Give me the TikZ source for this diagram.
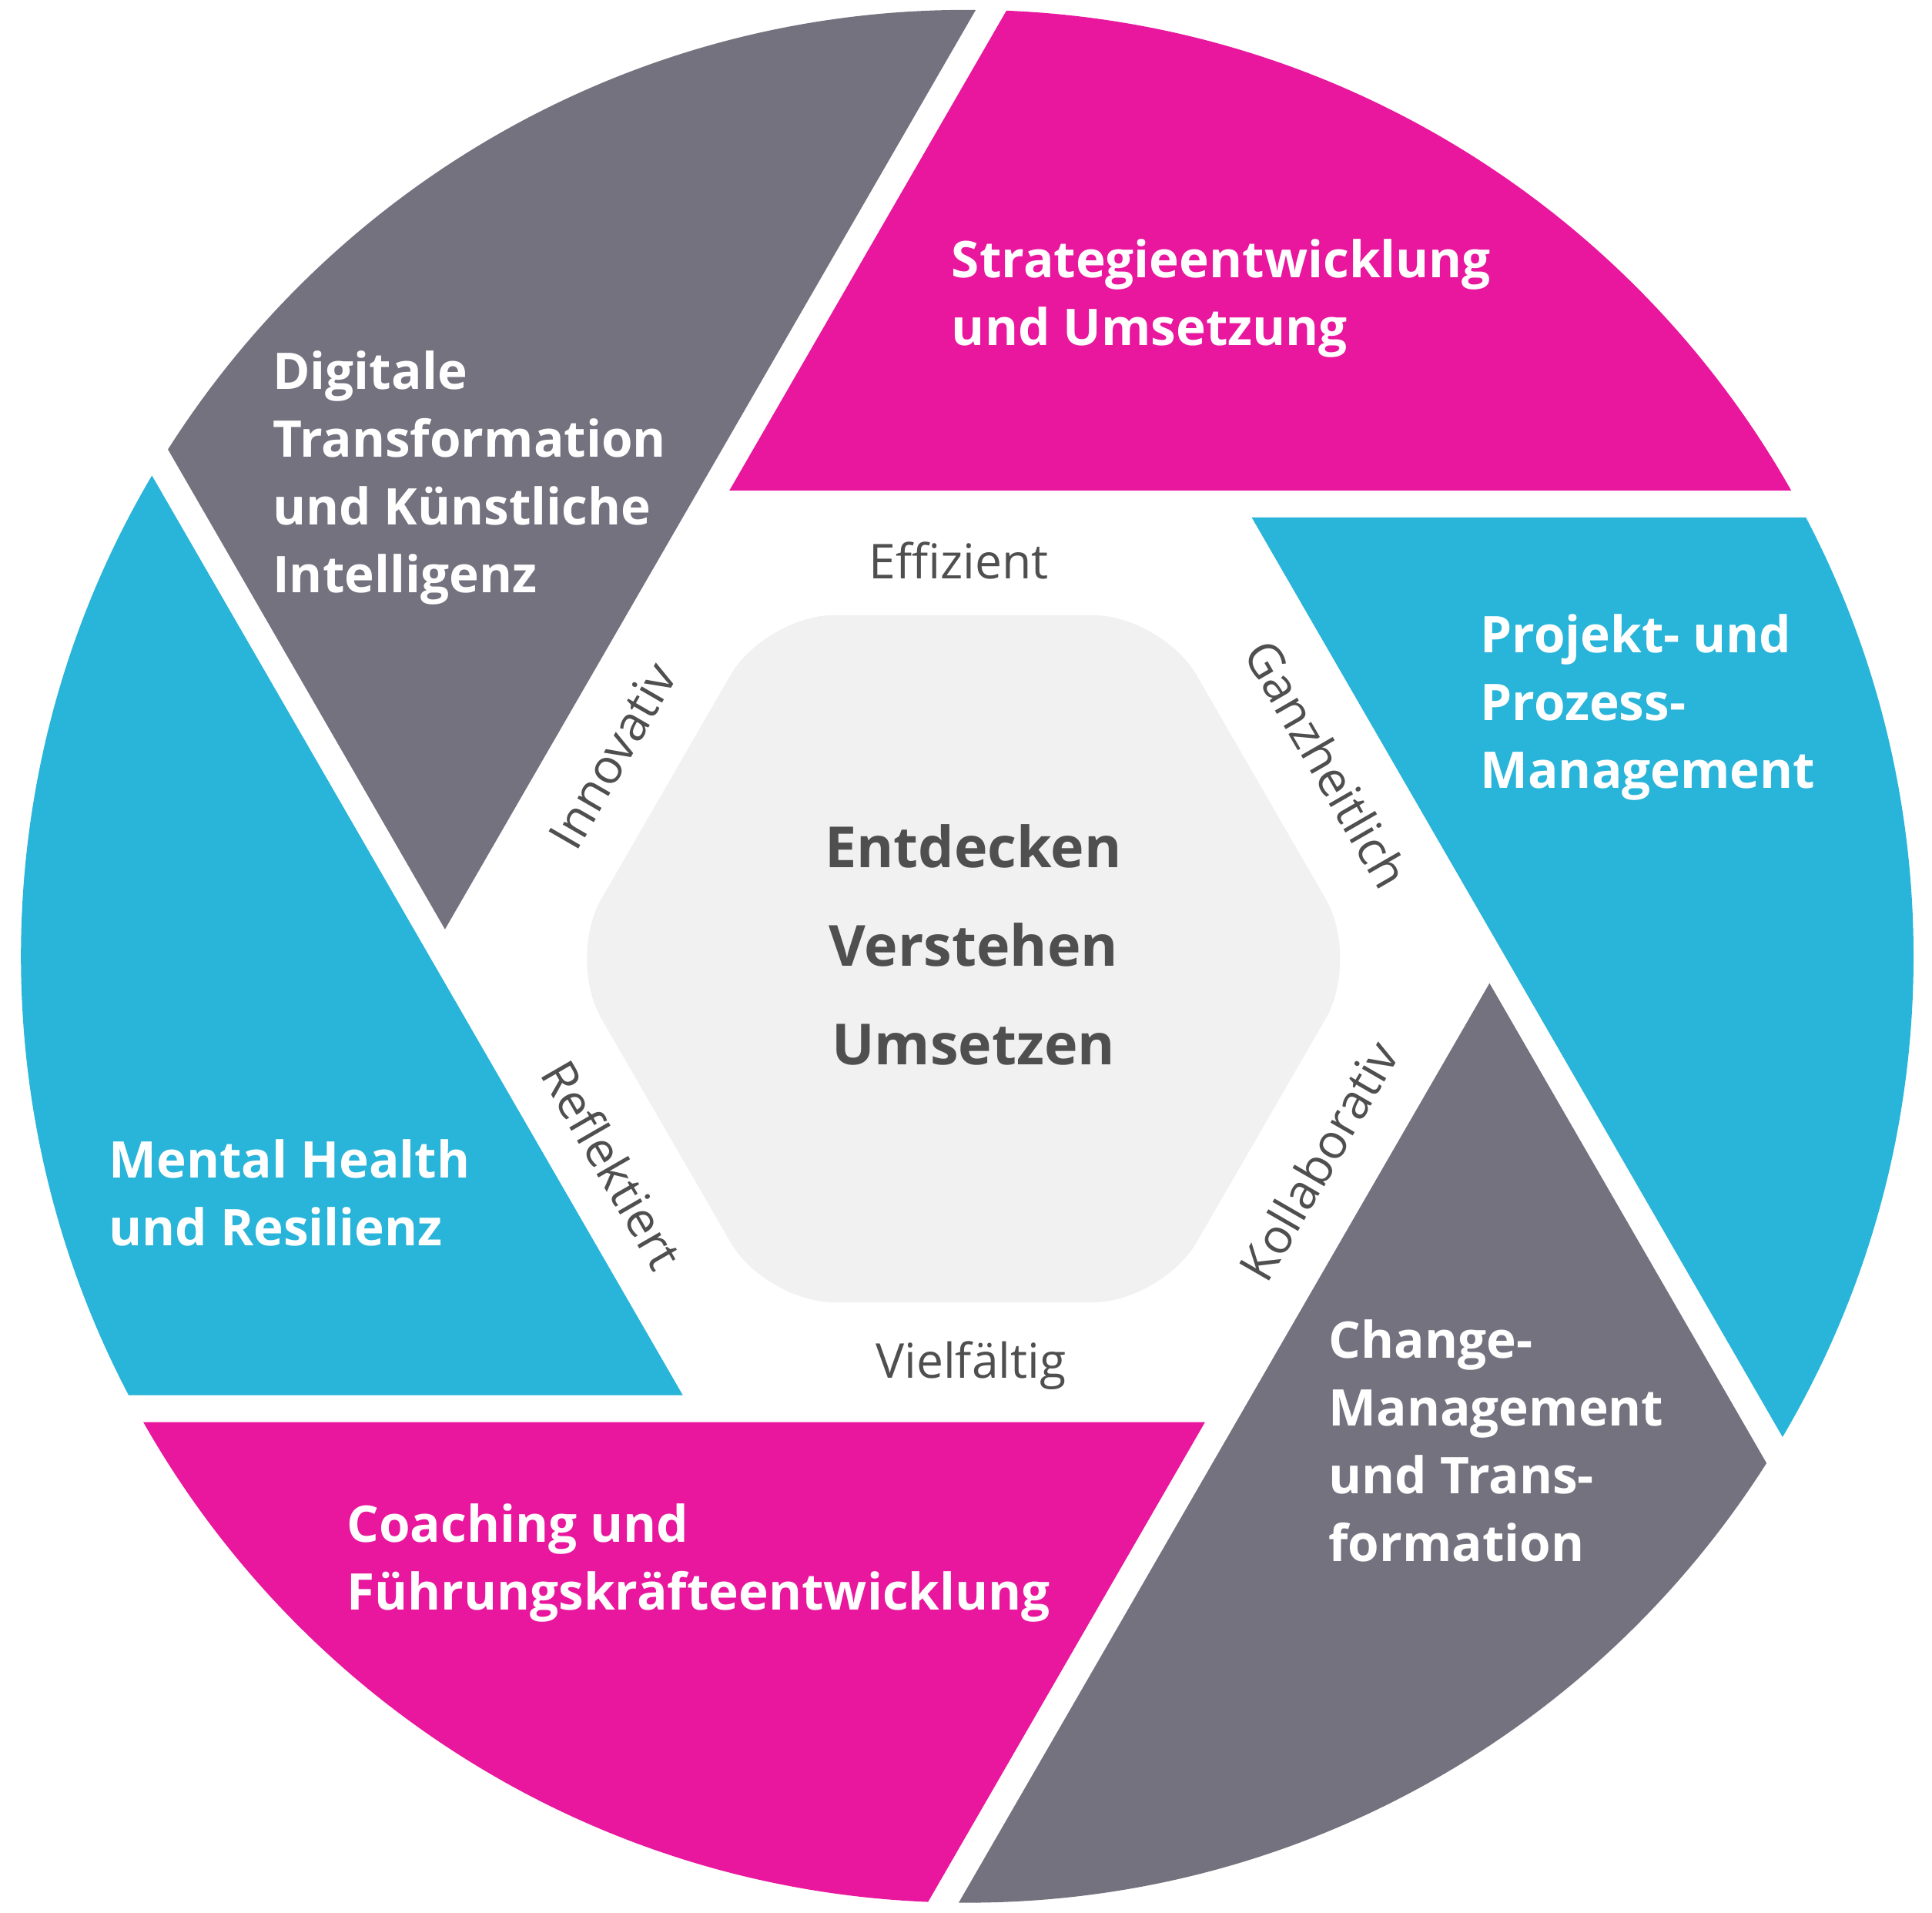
\documentclass[tikz,border=0pt]{standalone}
\usepackage{fontspec}
\setmainfont{Open Sans}
\usetikzlibrary{shapes.geometric}
\definecolor{pinkc}{HTML}{E8179E}
\definecolor{cyanc}{HTML}{29B4D9}
\definecolor{grayc}{HTML}{75727F}
\definecolor{hexc}{HTML}{F1F1F1}
\definecolor{txtc}{HTML}{4F4F4F}
\begin{document}
\begin{tikzpicture}[x=0.5pt,y=-0.5pt,
  seg/.style={font=\fontsize{20.5}{27.5}\selectfont\bfseries, text=white, align=left, anchor=west, inner sep=0},
  kw/.style={font=\fontsize{19.5}{22}\selectfont, text=txtc, inner sep=0},
  core/.style={font=\fontsize{23}{40}\selectfont\bfseries, text=txtc, align=center, inner sep=0}]
\useasboundingbox (0,0) rectangle (1568,1552);
\begin{scope}[shift={(785,776)}, yscale=-1]
  \clip (0,0) circle (768);
  \foreach \k/\c in {0/pinkc,1/cyanc,2/grayc,3/pinkc,4/cyanc,5/grayc}{
    \fill[\c, rotate=60*\k] (-193,378) -- (307,1244) -- (1600,1244) -- (1600,378) -- cycle;
  }
\end{scope}
\node[regular polygon, regular polygon sides=6, shape border rotate=0, minimum size=322pt, fill=hexc, rounded corners=28pt, inner sep=0] (hex) at (782,778) {};
\node[core] (core) at (790,767) {Entdecken\\Verstehen\\Umsetzen};
\node[seg] (s1) at (772,242) {Strategieentwicklung\\und Umsetzung};
\node[seg] (s2) at (221,388) {Digitale\\Transformation\\und Künstliche\\Intelligenz};
\node[seg] (s3) at (1201,574) {Projekt- und\\Prozess-\\Management};
\node[seg] (s4) at (88,968) {Mental Health\\und Resilienz};
\node[seg] (s5) at (281,1268) {Coaching und\\Führungskräfteentwicklung};
\node[seg] (s6) at (1078,1169) {Change-\\Management\\und Trans-\\formation};
\node[kw] (k1) at (778,455) {Effizient};
\node[kw] (k2) at (788,1108) {Vielfältig};
\node[kw, rotate=60] (k3) at (497,613) {Innovativ};
\node[kw, rotate=-60] (k4) at (1077,620) {Ganzheitlich};
\node[kw, rotate=-60] (k5) at (497,945) {Reflektiert};
\node[kw, rotate=60] (k6) at (1070,942) {Kollaborativ};
\end{tikzpicture}
\end{document}
